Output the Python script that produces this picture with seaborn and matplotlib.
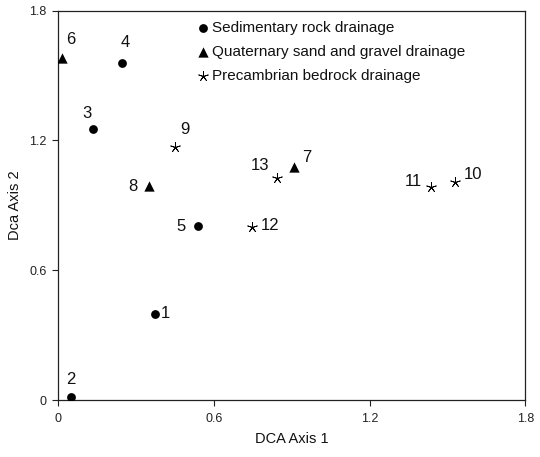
import matplotlib
matplotlib.use("Agg")
import matplotlib.pyplot as plt
import seaborn as sns
import pandas as pd

sns.set_theme(style="white")
plt.rcParams['font.family'] = ['Liberation Sans', 'DejaVu Sans']

sites = ["1", "2", "3", "4", "5", "6", "7", "8", "9", "10", "11", "12", "13"]
axis1 = [0.374, 0.049, 0.134, 0.244, 0.540, 0.015, 0.908, 0.348, 0.450, 1.529, 1.435, 0.747, 0.841]
axis2 = [0.399, 0.012, 1.253, 1.559, 0.804, 1.580, 1.077, 0.989, 1.171, 1.009, 0.983, 0.798, 1.028]
groups = ["Sedimentary rock drainage", "Sedimentary rock drainage", "Sedimentary rock drainage",
          "Sedimentary rock drainage", "Sedimentary rock drainage",
          "Quaternary sand and gravel drainage", "Quaternary sand and gravel drainage",
          "Quaternary sand and gravel drainage",
          "Precambrian bedrock drainage", "Precambrian bedrock drainage", "Precambrian bedrock drainage",
          "Precambrian bedrock drainage", "Precambrian bedrock drainage"]
group_order = ["Sedimentary rock drainage", "Quaternary sand and gravel drainage",
               "Precambrian bedrock drainage"]
tick_vals = [0, 0.6, 1.2, 1.8]
tick_labels = ["0", "0.6", "1.2", "1.8"]

# label offsets in pixels (dx, dy) relative to point
label_offsets = {"1": (10, 0), "2": (0, 18), "3": (-6, 15), "4": (4, 20), "5": (-17, 0),
                 "6": (9, 19), "7": (13, 10), "8": (-16, 0), "9": (10, 17), "10": (18, 7),
                 "11": (-17, 6), "12": (18, 2), "13": (-17, 12)}

df = pd.DataFrame({"site": sites, "x": axis1, "y": axis2, "group": groups})

fig = plt.figure(figsize=(5.4, 4.57), dpi=100)
ax = fig.add_axes([0.108, 0.1247, 0.865, 0.852])

styles = {
    "Sedimentary rock drainage": dict(marker="o", s=40, color="black", edgecolor="black", linewidth=0),
    "Quaternary sand and gravel drainage": dict(marker="^", s=55, color="black", edgecolor="black", linewidth=0),
    "Precambrian bedrock drainage": dict(marker=(5, 2, 0), s=50, color="black", linewidth=0.6),
}
for g in group_order:
    sub = df[df["group"] == g]
    sns.scatterplot(data=sub, x="x", y="y", ax=ax, label=g, zorder=3, **styles[g])

for _, r in df.iterrows():
    dx, dy = label_offsets[r["site"]]
    ax.annotate(r["site"], (r["x"], r["y"]), xytext=(dx * 0.72, dy * 0.72),
                textcoords="offset points", ha="center", va="center", fontsize=12, color="#111111")

ax.set_xlim(0, 1.8)
ax.set_ylim(0, 1.8)
ax.set_xticks(tick_vals)
ax.set_xticklabels(tick_labels)
ax.set_yticks(tick_vals)
ax.set_yticklabels(tick_labels)
ax.tick_params(axis="both", which="both", direction="out", length=4.5, width=0.8,
               labelsize=9, colors="#222222", bottom=True, left=True, top=False, right=False)
ax.tick_params(axis="x", pad=5)
ax.tick_params(axis="y", pad=4)
for sp in ax.spines.values():
    sp.set_color("#222222")
    sp.set_linewidth(0.9)
ax.set_xlabel("DCA Axis 1", fontsize=10.5, color="#111111", labelpad=5)
ax.set_ylabel("Dca Axis 2", fontsize=10.5, color="#111111", labelpad=5)

leg = ax.legend(loc="upper left", bbox_to_anchor=(0.27, 1.002), frameon=False,
                fontsize=11, handletextpad=0.1, labelspacing=0.66, handlelength=1.0,
                borderaxespad=0.3)
for t in leg.get_texts():
    t.set_color("#111111")

fig.savefig("out.png", dpi=100)
